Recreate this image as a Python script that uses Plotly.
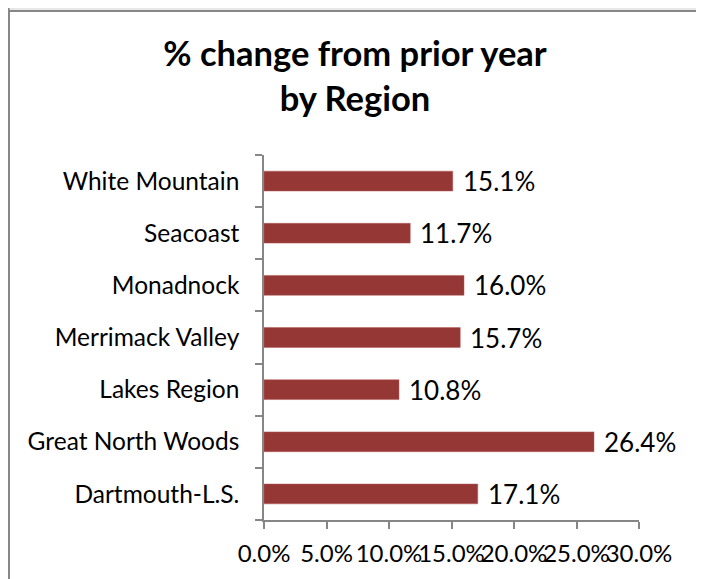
import plotly.graph_objects as go

regions = ["Dartmouth-L.S.", "Great North Woods", "Lakes Region", "Merrimack Valley",
           "Monadnock", "Seacoast", "White Mountain"]
pct_change = [17.1, 26.4, 10.8, 15.7, 16.0, 11.7, 15.1]
tick_vals = [0, 5, 10, 15, 20, 25, 30]
tick_text = ["0.0%", "5.0%", "10.0%", "15.0%", "20.0%", "25.0%", "30.0%"]

# page has an 8px body margin, so the figure is drawn 8px in from the top-left
OFF = 8
W, H = 704 - OFF, 579 - OFF
L, R, T, B = 264 - OFF, 639 - OFF, 155 - OFF, 520 - OFF  # plot area in figure pixels

def px(x):
    return (x - L) / (R - L)

def py(y):
    return (B - y) / (B - T)

FONT = "Lato, Calibri, sans-serif"
FS = 24.5
FS_NUM = 26
FS_XTICK = 24

fig = go.Figure(go.Bar(
    y=regions, x=pct_change, orientation="h",
    marker=dict(color="#953735", line=dict(color="#b55a58", width=0.5)),
    width=0.38, cliponaxis=False,
))

annotations = [
    dict(x=v, y=r, xref="x", yref="y", text=f"{v:.1f}%", showarrow=False,
         xanchor="left", yanchor="middle", xshift=8,
         font=dict(size=FS_NUM, color="black", family=FONT))
    for r, v in zip(regions, pct_change)
]

gray = "#878787"
shapes = [
    dict(type="line", xref="paper", yref="paper", x0=px(1), x1=px(1), y0=py(0), y1=py(H), line=dict(color=gray, width=2)),
    dict(type="line", xref="paper", yref="paper", x0=px(690), x1=px(690), y0=py(0), y1=py(H), line=dict(color=gray, width=2)),
    dict(type="line", xref="paper", yref="paper", x0=px(1), x1=px(690), y0=py(3), y1=py(3), line=dict(color=gray, width=2)),
    dict(type="line", xref="paper", yref="paper", x0=px(1), x1=px(690), y0=py(1), y1=py(1), line=dict(color="#cfcfcf", width=1)),
]

fig.update_layout(
    width=W, height=H,
    margin=dict(l=L, r=W - R, t=T, b=H - B, pad=0),
    paper_bgcolor="white", plot_bgcolor="white",
    showlegend=False,
    title=dict(text="<b>% change from prior year<br>by Region</b>", xref="container", x=347 / W, xanchor="center",
               yref="container", y=1 - 58 / H, yanchor="top",
               font=dict(size=34.5, color="black", family=FONT)),
    xaxis=dict(range=[0, 30], tickvals=tick_vals, ticktext=tick_text, showgrid=False,
               zeroline=False, showline=True, linecolor="#868686", linewidth=1.5,
               ticks="outside", ticklen=7, tickcolor="#868686", tickwidth=1.5,
               ticklabelstandoff=4, automargin=False, tickangle=0,
               tickfont=dict(size=FS_XTICK, color="black", family=FONT)),
    yaxis=dict(showgrid=False, zeroline=False, showline=True, linecolor="#868686", linewidth=1.5,
               ticks="outside", ticklen=7, tickcolor="#868686", tickwidth=1.5,
               tickson="boundaries", ticklabelstandoff=18, automargin=False,
               tickfont=dict(size=FS, color="black", family=FONT)),
    shapes=shapes,
    annotations=annotations,
)

fig.write_html("out.html")
